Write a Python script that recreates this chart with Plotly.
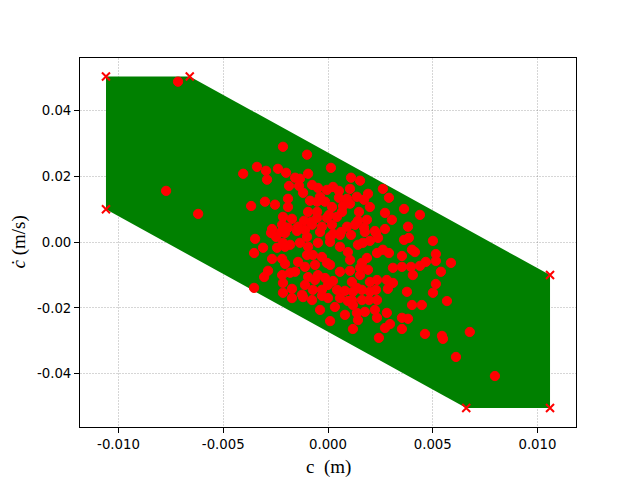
import plotly.graph_objects as go

# Polygon (feasible region) vertices
poly_x = [-0.0106, -0.0066, 0.0106, 0.0106, 0.0066, -0.0106]
poly_y = [0.0504, 0.0504, -0.0100, -0.0504, -0.0504, 0.0100]

# Sampled states
pts_x = [
    -0.00716, -0.00215, -0.00100, -0.00339, -0.00405, -0.00296, -0.00239, -0.00200, 0.00014, -0.00095,
    -0.00291, -0.00157, -0.00134, 0.00110, 0.00153, -0.00186, -0.00138, -0.00076, -0.00048, -0.00005,
    0.00024, 0.00052, 0.00105, 0.00262, 0.00191, 0.00291, -0.00773, -0.00191, -0.00119, -0.00086,
    -0.00038, -0.00014, 0.00052, 0.00091, 0.00105, 0.00138, 0.00172, 0.00072, -0.00367, -0.00301,
    -0.00253, -0.00620, -0.00191, -0.00052, 0.00019, 0.00200, 0.00363, -0.00095, -0.00052, 0.00067,
    0.00148, 0.00272, 0.00439, -0.00215, -0.00172, -0.00114, -0.00081, -0.00052, -0.00005, 0.00005,
    0.00043, 0.00143, 0.00186, 0.00305, -0.00267, -0.00219, -0.00191, -0.00143, -0.00076, -0.00029,
    0.00019, 0.00091, 0.00129, 0.00172, 0.00224, 0.00272, 0.00382, 0.00062, 0.00024, -0.00148,
    -0.00110, -0.00272, -0.00224, -0.00248, -0.00205, -0.00348, -0.00100, -0.00038, 0.00010, 0.00057,
    0.00110, 0.00176, 0.00229, 0.00239, 0.00363, 0.00386, 0.00501, 0.00167, 0.00200, -0.00353,
    -0.00310, -0.00243, -0.00205, -0.00215, -0.00181, -0.00134, -0.00095, -0.00048, 0.00010, 0.00057,
    0.00095, 0.00143, 0.00234, 0.00262, 0.00291, 0.00353, 0.00401, 0.00415, 0.00515, 0.00515,
    0.00587, 0.00467, -0.00267, -0.00219, -0.00205, -0.00143, -0.00100, -0.00072, -0.00029, -0.00005,
    0.00010, 0.00105, 0.00186, 0.00162, -0.00110, -0.00062, 0.00057, 0.00105, 0.00153, 0.00191,
    0.00310, 0.00353, 0.00396, 0.00439, 0.00405, 0.00539, -0.00286, -0.00305, -0.00219, -0.00181,
    -0.00157, -0.00215, -0.00095, -0.00062, -0.00048, -0.00014, 0.00024, 0.00114, 0.00153, 0.00200,
    0.00234, 0.00281, 0.00310, 0.00286, 0.00515, -0.00353, -0.00215, -0.00172, -0.00124, -0.00110,
    -0.00072, -0.00029, 0.00000, 0.00043, 0.00081, 0.00119, 0.00138, 0.00162, 0.00200, 0.00229,
    0.00377, 0.00501, -0.00172, -0.00119, -0.00076, -0.00029, 0.00000, 0.00057, 0.00095, 0.00114,
    0.00162, 0.00196, 0.00234, 0.00568, 0.00033, 0.00119, 0.00401, 0.00448, -0.00038, 0.00081,
    0.00138, 0.00176, 0.00224, 0.00281, 0.00234, 0.00143, 0.00010, 0.00353, 0.00382, 0.00296,
    0.00272, 0.00353, 0.00119, 0.00243, 0.00463, 0.00544, 0.00549, 0.00677, 0.00611, 0.00797,
]
pts_y = [
    0.0488, 0.0290, 0.0266, 0.0229, 0.0208, 0.0217, 0.0223, 0.0211, 0.0226, 0.0208,
    0.0190, 0.0196, 0.0193, 0.0196, 0.0187, 0.0171, 0.0171, 0.0174, 0.0165, 0.0159,
    0.0168, 0.0156, 0.0162, 0.0162, 0.0147, 0.0135, 0.0156, 0.0132, 0.0150, 0.0126,
    0.0138, 0.0123, 0.0135, 0.0132, 0.0117, 0.0138, 0.0129, 0.0110, 0.0110, 0.0123,
    0.0114, 0.0086, 0.0107, 0.0123, 0.0107, 0.0107, 0.0101, 0.0092, 0.0092, 0.0092,
    0.0092, 0.0089, 0.0083, 0.0077, 0.0071, 0.0065, 0.0062, 0.0074, 0.0074, 0.0083,
    0.0077, 0.0065, 0.0068, 0.0068, 0.0040, 0.0053, 0.0044, 0.0047, 0.0053, 0.0047,
    0.0053, 0.0047, 0.0053, 0.0044, 0.0034, 0.0040, 0.0047, 0.0031, 0.0025, 0.0034,
    0.0037, 0.0028, 0.0031, 0.0016, 0.0028, 0.0010, 0.0016, 0.0031, 0.0016, 0.0022,
    0.0022, 0.0031, 0.0028, 0.0013, 0.0007, 0.0013, 0.0004, -0.0002, 0.0004, -0.0033,
    -0.0017, -0.0017, -0.0014, -0.0002, -0.0008, -0.0002, -0.0014, -0.0002, 0.0001, -0.0014,
    -0.0030, -0.0008, -0.0033, -0.0023, -0.0033, -0.0042, -0.0023, -0.0030, -0.0036, -0.0057,
    -0.0063, -0.0060, -0.0051, -0.0051, -0.0066, -0.0060, -0.0039, -0.0039, -0.0045, -0.0063,
    -0.0069, -0.0054, -0.0048, -0.0063, -0.0075, -0.0069, -0.0090, -0.0087, -0.0078, -0.0084,
    -0.0078, -0.0075, -0.0075, -0.0072, -0.0100, -0.0090, -0.0087, -0.0106, -0.0100, -0.0093,
    -0.0090, -0.0124, -0.0106, -0.0115, -0.0100, -0.0109, -0.0118, -0.0121, -0.0100, -0.0121,
    -0.0115, -0.0115, -0.0124, -0.0142, -0.0127, -0.0139, -0.0154, -0.0142, -0.0160, -0.0130,
    -0.0145, -0.0145, -0.0130, -0.0145, -0.0148, -0.0151, -0.0139, -0.0145, -0.0151, -0.0145,
    -0.0151, -0.0154, -0.0170, -0.0167, -0.0176, -0.0163, -0.0170, -0.0170, -0.0179, -0.0176,
    -0.0176, -0.0176, -0.0176, -0.0179, -0.0197, -0.0191, -0.0191, -0.0191, -0.0206, -0.0221,
    -0.0215, -0.0212, -0.0206, -0.0215, -0.0230, -0.0237, -0.0240, -0.0230, -0.0233, -0.0249,
    -0.0261, -0.0264, -0.0264, -0.0291, -0.0279, -0.0285, -0.0294, -0.0273, -0.0349, -0.0407,
]

x_ticks = [-0.010, -0.005, 0.000, 0.005, 0.010]
x_ticklabels = ["-0.010", "-0.005", "0.000", "0.005", "0.010"]
y_ticks = [0.04, 0.02, 0.00, -0.02, -0.04]
y_ticklabels = ["0.04", "0.02", "0.00", "-0.02", "-0.04"]

fig = go.Figure()
fig.add_trace(go.Scatter(
    x=poly_x + [poly_x[0]], y=poly_y + [poly_y[0]], mode="lines", fill="toself",
    fillcolor="#008000", line=dict(color="#008000", width=0), hoverinfo="skip",
))
fig.add_trace(go.Scatter(
    x=pts_x, y=pts_y, mode="markers",
    marker=dict(symbol="circle", size=9.3, color="#ff0000", line=dict(color="#ff0000", width=1)),
))
fig.add_trace(go.Scatter(
    x=poly_x, y=poly_y, mode="markers",
    marker=dict(symbol="x-thin", size=8, color="#ff0000", line=dict(color="#ff0000", width=2)),
))

axis_common = dict(
    showline=True, linecolor="black", linewidth=1, mirror=True,
    ticks="outside", ticklen=5, tickwidth=1, tickcolor="black",
    showgrid=True, gridcolor="rgba(0,0,0,0.16)", gridwidth=1, griddash="2px,1px",
    zeroline=False, layer="above traces",
    tickfont=dict(family="DejaVu Sans", size=13.3, color="black"),
)
fig.update_xaxes(range=[-0.01184, 0.01184], tickvals=x_ticks, ticktext=x_ticklabels, **axis_common)
fig.update_yaxes(range=[-0.0562, 0.0560], tickvals=y_ticks, ticktext=y_ticklabels, **axis_common)

fig.add_annotation(text="c&nbsp;&nbsp;(m)", xref="paper", yref="paper", x=0.5, y=0, yshift=-40,
                   xanchor="center", yanchor="middle", showarrow=False,
                   font=dict(family="Liberation Serif", size=19, color="black"))
fig.add_annotation(text="<i>ċ</i>&nbsp;(m/s)", xref="paper", yref="paper", x=0, y=0.5, xshift=-62,
                   xanchor="center", yanchor="middle", textangle=-90, showarrow=False,
                   font=dict(family="Liberation Serif", size=19, color="black"))

# The page body has an 8px margin, so the figure is drawn 8px in from the corner
fig.update_layout(
    width=632, height=472, showlegend=False,
    margin=dict(l=72, r=64, t=50, b=53),
    paper_bgcolor="white", plot_bgcolor="white",
)
fig.write_html("out.html")
